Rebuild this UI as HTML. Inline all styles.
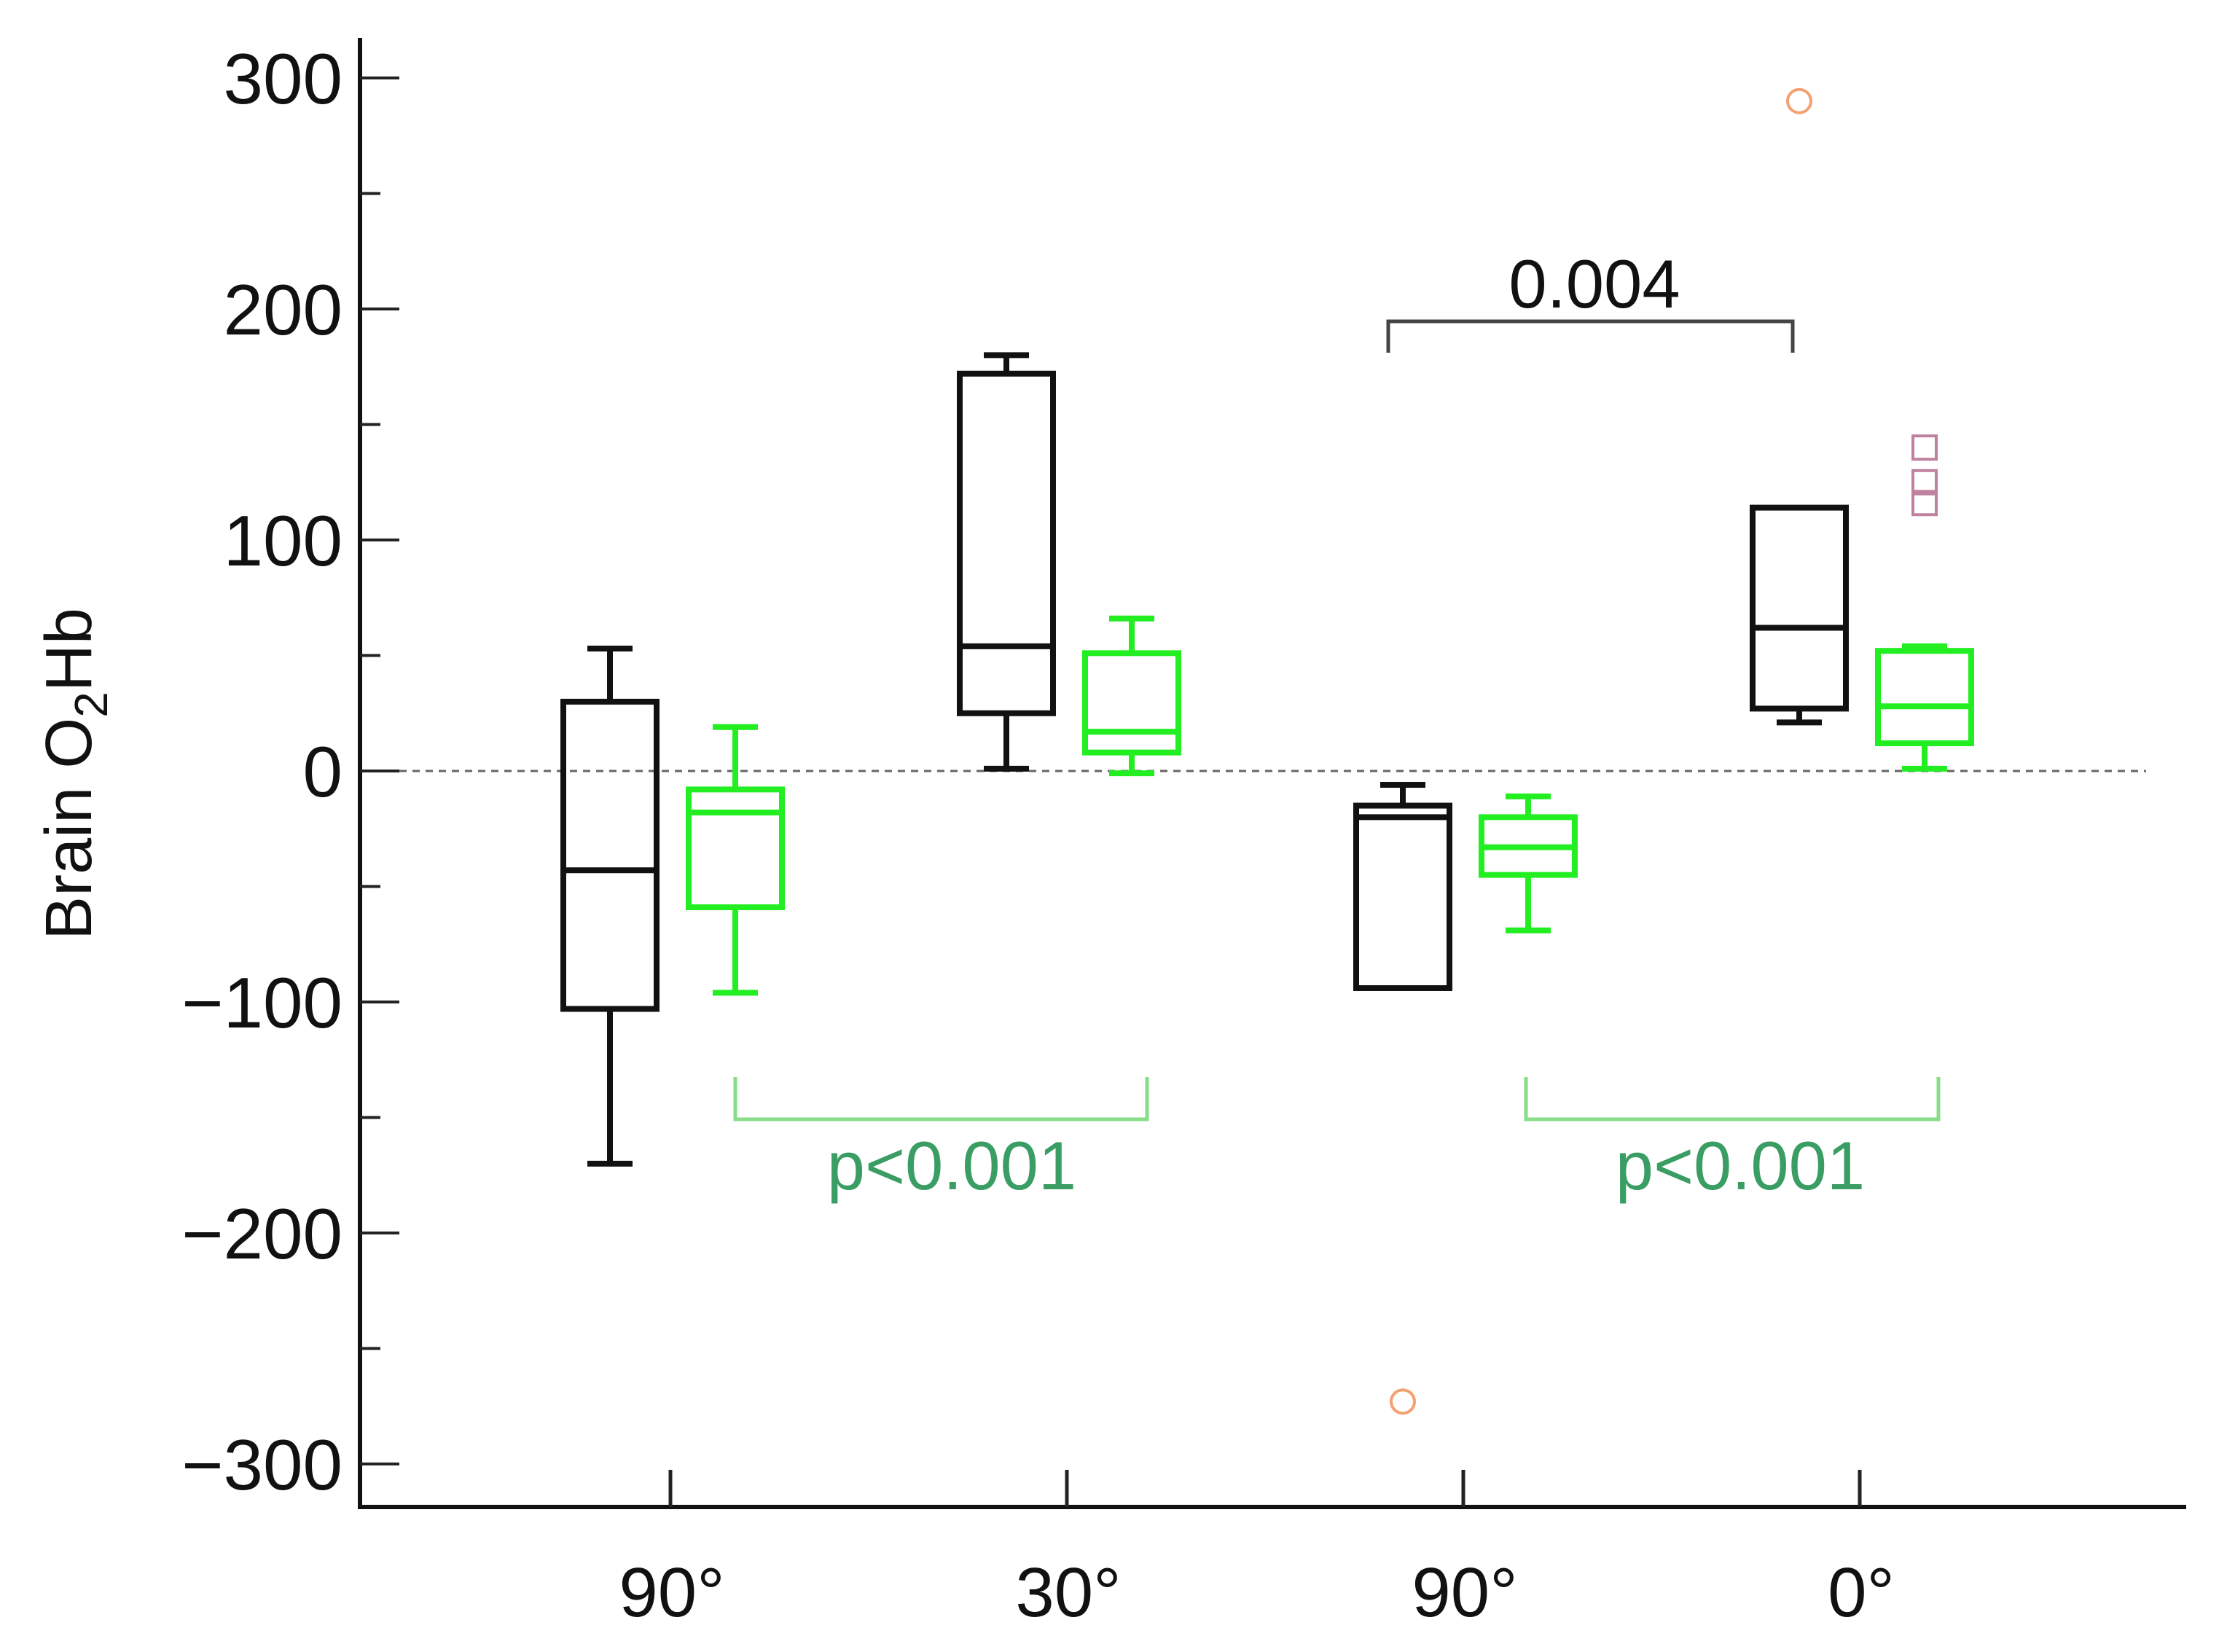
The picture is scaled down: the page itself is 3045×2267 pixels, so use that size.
<!DOCTYPE html>
<html><head><meta charset="utf-8"><style>
html,body{margin:0;padding:0;background:#fff;width:3045px;height:2267px;overflow:hidden}
svg text{font-family:"Liberation Sans",sans-serif}
</style></head><body>
<svg id="chart" width="3045" height="2267" xmlns="http://www.w3.org/2000/svg"></svg>
<script>
const categories = ["90°","30°","90°","0°"];
const blackWhiskerHigh = [53, 180, -6, 114];
const blackQ3 = [30, 172, -15, 114];
const blackMedian = [-43, 54, -20, 62];
const blackQ1 = [-103, 25, -94, 27];
const blackWhiskerLow = [-170, 1, -94, 21];
const greenWhiskerHigh = [19, 66, -11, 54];
const greenQ3 = [-8, 51, -20, 52];
const greenMedian = [-18, 17, -33, 28];
const greenQ1 = [-59, 8, -45, 12];
const greenWhiskerLow = [-96, -1, -69, 1];
const circleOutliers = [[2, -273], [3, 290]];
const squareOutliers = [140, 125, 116];
const yTicks = [300, 200, 100, 0, -100, -200, -300];
const yTickLabels = ["300","200","100","0","\u2212100","\u2212200","\u2212300"];

const NS = "http://www.w3.org/2000/svg";
const svg = document.getElementById("chart");
const y = v => 1058 - v * 3.17;
const xc = i => 920 + i * 544;
function mk(tag, attrs, parent) {
  const e = document.createElementNS(NS, tag);
  for (const k in attrs) e.setAttribute(k, attrs[k]);
  (parent || svg).appendChild(e);
  return e;
}
let zl = mk("line", {x1: 494, x2: 2945, y1: y(0), y2: y(0), stroke: "#666", "stroke-width": 3, "stroke-dasharray": "10,8"});


let ya = mk("line", {x1: 494, x2: 494, y1: 52, y2: 2071, stroke: "#111", "stroke-width": 6});


let xa = mk("line", {x1: 491, x2: 3000, y1: 2068, y2: 2068, stroke: "#111", "stroke-width": 6});


for (let v = -300; v <= 300; v += 50) {
  const major = v % 100 === 0;
  const t = mk("line", {x1: 494, x2: major ? 548 : 522, y1: y(v), y2: y(v), stroke: "#222", "stroke-width": 4});
  
  
}
yTicks.forEach((v, i) => {
  const t = mk("text", {x: 470, y: y(v) + 35, "text-anchor": "end", "font-size": 98, fill: "#111"});
  t.textContent = yTickLabels[i];
  
  
});
categories.forEach((c, i) => {
  const t = mk("line", {x1: xc(i), x2: xc(i), y1: 2017, y2: 2068, stroke: "#222", "stroke-width": 5});
  
  
  const l = mk("text", {x: xc(i) + 2, y: 2218, "text-anchor": "middle", "font-size": 96, fill: "#111"});
  l.textContent = c;
  
  
});
const yt = mk("text", {transform: "translate(125,1062) rotate(-90)", "text-anchor": "middle", "font-size": 90, fill: "#111"});
yt.innerHTML = 'Brain O<tspan font-size="64" dy="22">2</tspan><tspan dy="-22">Hb</tspan>';



function box(cx, hi, q3, med, q1, lo, color, name) {
  const g = mk("g", {stroke: color, "stroke-width": 8, fill: "none"});
  
  
  const hw = 64, cw = 31;
  if (hi > q3) { mk("line", {x1: cx, x2: cx, y1: y(hi), y2: y(q3)}, g); mk("line", {x1: cx - cw, x2: cx + cw, y1: y(hi), y2: y(hi)}, g); }
  if (lo < q1) { mk("line", {x1: cx, x2: cx, y1: y(q1), y2: y(lo)}, g); mk("line", {x1: cx - cw, x2: cx + cw, y1: y(lo), y2: y(lo)}, g); }
  mk("rect", {x: cx - hw, y: y(q3), width: hw * 2, height: y(q1) - y(q3)}, g);
  mk("line", {x1: cx - hw, x2: cx + hw, y1: y(med), y2: y(med)}, g);
}
categories.forEach((c, i) => {
  box(xc(i) - 83, blackWhiskerHigh[i], blackQ3[i], blackMedian[i], blackQ1[i], blackWhiskerLow[i], "#111", "black-box-" + (i + 1));
  box(xc(i) + 89, greenWhiskerHigh[i], greenQ3[i], greenMedian[i], greenQ1[i], greenWhiskerLow[i], "#22ee22", "green-box-" + (i + 1));
});
circleOutliers.forEach(o => {
  const c = mk("circle", {cx: xc(o[0]) - 83, cy: y(o[1]), r: 16, fill: "none", stroke: "#f5a070", "stroke-width": 4});
  
  
});
squareOutliers.forEach(v => {
  const s = mk("rect", {x: xc(3) + 89 - 16, y: y(v) - 16, width: 32, height: 32, fill: "none", stroke: "#c080a0", "stroke-width": 4});
  
  
});
const b1 = mk("path", {d: "M1905 484 V441 H2460 V484", fill: "none", stroke: "#444", "stroke-width": 5});


const t1 = mk("text", {x: 2188, y: 422, "text-anchor": "middle", "font-size": 94, fill: "#111"});
t1.textContent = "0.004";


[[1009, 1574, 1306], [2094, 2660, 2388]].forEach((b, i) => {
  const p = mk("path", {d: `M${b[0]} 1478 V1536 H${b[1]} V1478`, fill: "none", stroke: "#88dd88", "stroke-width": 5});
  
  
  const t = mk("text", {x: b[2], y: 1632, "text-anchor": "middle", "font-size": 94, fill: "#3a9e64"});
  t.textContent = "p<0.001";
  
  
});
</script>
</body></html>
